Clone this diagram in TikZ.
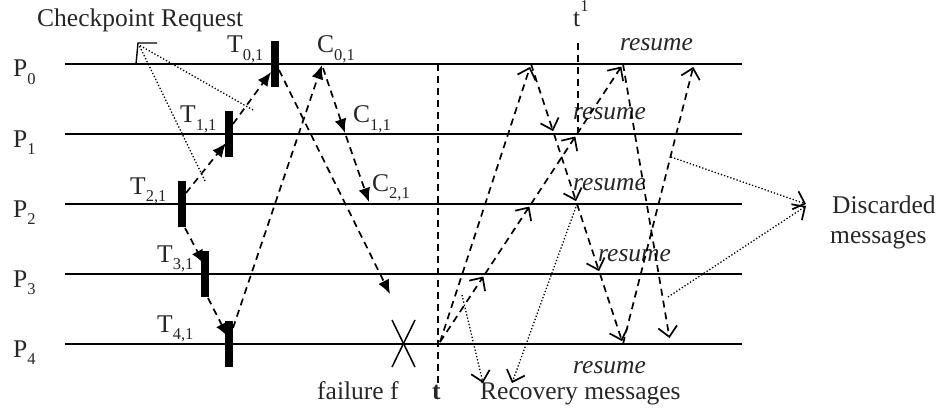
\documentclass[tikz,border=0pt]{standalone}
\usepackage{fontspec}
\setmainfont{Liberation Serif}
\usetikzlibrary{arrows.meta}
\newcommand{\lidx}[1]{\raisebox{-0.3em}{\fontsize{16.5}{16.5}\selectfont #1}}
\newcommand{\uidx}[1]{\raisebox{0.6em}{\fontsize{16.5}{16.5}\selectfont #1}}
\begin{document}
\begin{tikzpicture}[x=1pt,y=-1pt,
  proc/.style={line width=1.8pt},
  msg/.style={line width=1.7pt, dash pattern=on 7pt off 5pt},
  fmsg/.style={msg, -{Latex[length=14pt,width=12pt]}},
  omsg/.style={msg, shorten >=3pt, -{Straight Barb[length=10pt,width=19pt,line width=1.7pt]}},
  dotl/.style={line width=1.3pt, dash pattern=on 1.3pt off 2pt},
  odot/.style={dotl, -{Straight Barb[length=10pt,width=19pt,line width=1.7pt]}},
  bar/.style={fill=black, minimum width=7.5pt, minimum height=46pt, inner sep=0pt},
  lbl/.style={font=\fontsize{25.5}{30}\selectfont, text=black!85, inner sep=0pt, anchor=base west},
  ilbl/.style={lbl, font=\fontsize{25.5}{30}\selectfont\itshape},
  ]
\useasboundingbox (0,0) rectangle (939,409);

% process lines and labels
\foreach \i/\y in {0/64,1/134,2/204,3/274,4/344}{
  \coordinate (La\i) at (65,\y);
  \coordinate (Lb\i) at (742,\y);
  \draw[proc] (La\i) -- (Lb\i);
  \node[lbl] (P\i) at (13,\y+13) {P\lidx{\i}};
}

% checkpoint bars
\node[bar] (T0) at (275,64) {};
\node[bar] (T1) at (229,134) {};
\node[bar] (T2) at (182,204) {};
\node[bar] (T3) at (205,274) {};
\node[bar] (T4) at (229,344) {};

% labels
\node[lbl] (req) at (37,27) {Checkpoint Request};
\node[lbl] (t0l) at (227,53) {T\lidx{0,1}};
\node[lbl] (t1l) at (180,123) {T\lidx{1,1}};
\node[lbl] (t2l) at (130,194) {T\lidx{2,1}};
\node[lbl] (t3l) at (157,262) {T\lidx{3,1}};
\node[lbl] (t4l) at (157,332) {T\lidx{4,1}};
\node[lbl] (c0l) at (317,53) {C\lidx{0,1}};
\node[lbl] (c1l) at (353,123) {C\lidx{1,1}};
\node[lbl] (c2l) at (372,191) {C\lidx{2,1}};
\node[lbl] (t1sup) at (573,27) {t\uidx{1}};
\node[ilbl] (rs0) at (620,51) {resume};
\node[ilbl] (rs1) at (573,120) {resume};
\node[ilbl] (rs2) at (573,190) {resume};
\node[ilbl] (rs3) at (598,261) {resume};
\node[ilbl] (rs4) at (573,373) {resume};
\node[lbl] (fail) at (317,399) {failure f};
\node[lbl, font=\fontsize{25.5}{30}\selectfont\bfseries] (tl) at (432,399) {t};
\node[lbl] (rec) at (480,399) {Recovery messages};
\node[lbl] (disc) at (832,213) {Discarded};
\node[lbl] (dmsg) at (830,243) {messages};

% checkpoint request marker
\coordinate (ck) at (139,45);
\draw[line width=1.4pt] (136,64) -- (138,43) -- (157,43);
\coordinate (ckA) at (205,181);
\coordinate (ckB) at (253,110);
\draw[dotl] (ckA) -- (ck);
\draw[dotl] (ckB) -- (ck);

% checkpoint messages (filled tips)
\coordinate (a1) at (186,193); \coordinate (a2) at (226,143);
\coordinate (b1) at (233,124); \coordinate (b2) at (271,72);
\coordinate (c1) at (185,228); \coordinate (c2) at (204,264);
\coordinate (d1) at (208,298); \coordinate (d2) at (228,337);
\coordinate (e1) at (233,328); \coordinate (C0) at (322,65);
\coordinate (f1) at (279,70);  \coordinate (f2) at (390,294);
\coordinate (g1) at (323,68);  \coordinate (C1) at (345,133);
\coordinate (h1) at (346,136); \coordinate (C2) at (369,202);
\draw[fmsg] (a1) -- (a2);
\draw[fmsg] (b1) -- (b2);
\draw[fmsg] (c1) -- (c2);
\draw[fmsg] (d1) -- (d2);
\draw[fmsg] (e1) -- (C0);
\draw[fmsg] (f1) -- (f2);
\draw[fmsg] (g1) -- (C1);
\draw[fmsg] (h1) -- (C2);

% failure cross
\coordinate (x1) at (392,320); \coordinate (x2) at (415,367);
\coordinate (x3) at (415,320); \coordinate (x4) at (392,367);
\draw[line width=1.5pt] (x1) -- (x2);
\draw[line width=1.5pt] (x3) -- (x4);

% vertical dashed lines
\coordinate (vt0) at (438,64); \coordinate (vt1) at (438,383);
\draw[msg] (vt0) -- (vt1);
\coordinate (vs0) at (578,43); \coordinate (vs1) at (578,134);
\draw[msg] (vs0) -- (vs1);

% recovery phase messages (open tips)
\coordinate (R) at (440,342);
\coordinate (A0) at (531,64);
\coordinate (Q3) at (485,274); \coordinate (Q2) at (531,204);
\coordinate (Q1) at (577,134); \coordinate (Q0) at (623,64);
\coordinate (D1) at (554,134); \coordinate (D2) at (577,204);
\coordinate (D3) at (600,274); \coordinate (D4) at (623,344);
\coordinate (U0) at (694,64);  \coordinate (V4) at (670,341);
\draw[omsg] (R) -- (A0);
\draw[omsg] (R) -- (Q3);
\draw[omsg] (Q3) -- (Q2);
\draw[omsg] (Q2) -- (Q1);
\draw[omsg] (Q1) -- (Q0);
\draw[omsg] (A0) -- (D1);
\draw[omsg] (D1) -- (D2);
\draw[omsg] (D2) -- (D3);
\draw[omsg] (D3) -- (D4);
\draw[omsg] (D4) -- (U0);
\draw[omsg] (Q0) -- (V4);

% recovery message pointers
\coordinate (rp1) at (462,295); \coordinate (rt1) at (483,383);
\coordinate (rt2) at (512,383);
\draw[odot] (rp1) -- (rt1);
\draw[odot] (D2) -- (rt2);

% discarded message pointers
\coordinate (dp1) at (671,157); \coordinate (dp2) at (668,297);
\coordinate (dt1) at (806,204); \coordinate (dt2) at (806,206);
\draw[odot] (dp1) -- (dt1);
\draw[odot] (dp2) -- (dt2);
\end{tikzpicture}
\end{document}
